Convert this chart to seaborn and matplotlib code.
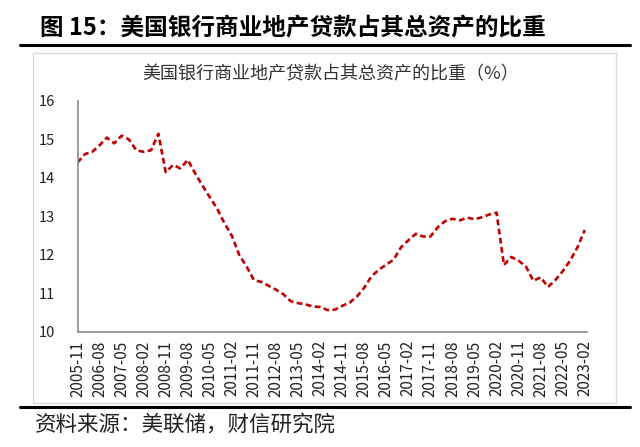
import numpy as np
import pandas as pd
import seaborn as sns
import matplotlib
matplotlib.use("Agg")
import matplotlib.pyplot as plt
from matplotlib.patches import Rectangle
from matplotlib.lines import Line2D

sns.set_theme(style="white")
plt.rcParams['font.family'] = ['Noto Sans CJK SC', 'DejaVu Sans']

title = "图 15：美国银行商业地产贷款占其总资产的比重"
chart_title = "美国银行商业地产贷款占其总资产的比重（%）"
source = "资料来源：美联储，财信研究院"

# quarterly dates 2005-11 .. 2023-02
dates = pd.date_range("2005-11-01", "2023-02-01", freq="3MS").strftime("%Y-%m").tolist()
values = [14.40, 14.62, 14.68, 14.85, 15.05, 14.90, 15.10, 15.00, 14.72, 14.68,
          14.72, 15.15, 14.15, 14.34, 14.25, 14.47, 14.12, 13.80, 13.50, 13.20,
          12.82, 12.50, 12.00, 11.70, 11.35, 11.30, 11.20, 11.10, 10.98, 10.80,
          10.75, 10.72, 10.66, 10.65, 10.57, 10.58, 10.68, 10.76, 10.92, 11.15,
          11.45, 11.62, 11.75, 11.88, 12.20, 12.38, 12.55, 12.48, 12.48, 12.72,
          12.88, 12.94, 12.90, 12.97, 12.93, 12.98, 13.05, 13.10, 11.74, 11.95,
          11.85, 11.70, 11.33, 11.42, 11.17, 11.35, 11.58, 11.85, 12.20, 12.65]
yticks = [10, 11, 12, 13, 14, 15, 16]

df = pd.DataFrame({"idx": np.arange(len(values)), "date": dates, "value": values})

fig = plt.figure(figsize=(6.4, 4.47), dpi=100)
W, H = 640, 447

# page decorations
fig.text(40 / W, 1 - 28 / H, title, fontsize=17, fontweight='bold', va='center', ha='left', color='black')
fig.add_artist(Line2D([20 / W, 630 / W], [1 - 45 / H, 1 - 45 / H], color='black', lw=2.2))
fig.add_artist(Rectangle((33 / W, 1 - 403 / H), (616 - 33) / W, (403 - 53) / H,
                         fill=False, edgecolor='#d9d9d9', lw=1.0))
fig.add_artist(Line2D([20 / W, 630 / W], [1 - 407 / H, 1 - 407 / H], color='black', lw=2.2))
fig.text(35 / W, 1 - 425 / H, source, fontsize=15.5, style='italic', va='center', ha='left', color='#222222')

ax = fig.add_axes([77.5 / W, 1 - 332 / H, (587 - 77.5) / W, (332 - 101) / H])
sns.lineplot(data=df, x="idx", y="value", ax=ax, color='#C00000', lw=1.9)
ax.lines[0].set_dashes([2.2, 1.3])

ax.set_xlim(0, len(values) - 1 + 0.3)
ax.set_ylim(10, 16)
ax.set_yticks(yticks)
ax.set_yticklabels([str(v) for v in yticks], fontsize=10.5, color='#222222')
tick_pos = list(range(0, len(values), 3))
ax.set_xticks(tick_pos)
ax.set_xticklabels([dates[i] for i in tick_pos], rotation=90, fontsize=11, color='#222222')
ax.set_xlabel("")
ax.set_ylabel("")
for s in ['top', 'right']:
    ax.spines[s].set_visible(False)
for s in ['left', 'bottom']:
    ax.spines[s].set_color('#8c8c8c')
    ax.spines[s].set_linewidth(1.2)
ax.tick_params(axis='both', which='both', direction='out', length=4, width=1, color='#8c8c8c', pad=2)
ax.tick_params(axis='y', pad=12)
ax.grid(False)
fig.text(331 / W, 1 - 74 / H, chart_title, fontsize=13, ha='center', va='center', color='#333333')

fig.savefig("out.png", dpi=100)
